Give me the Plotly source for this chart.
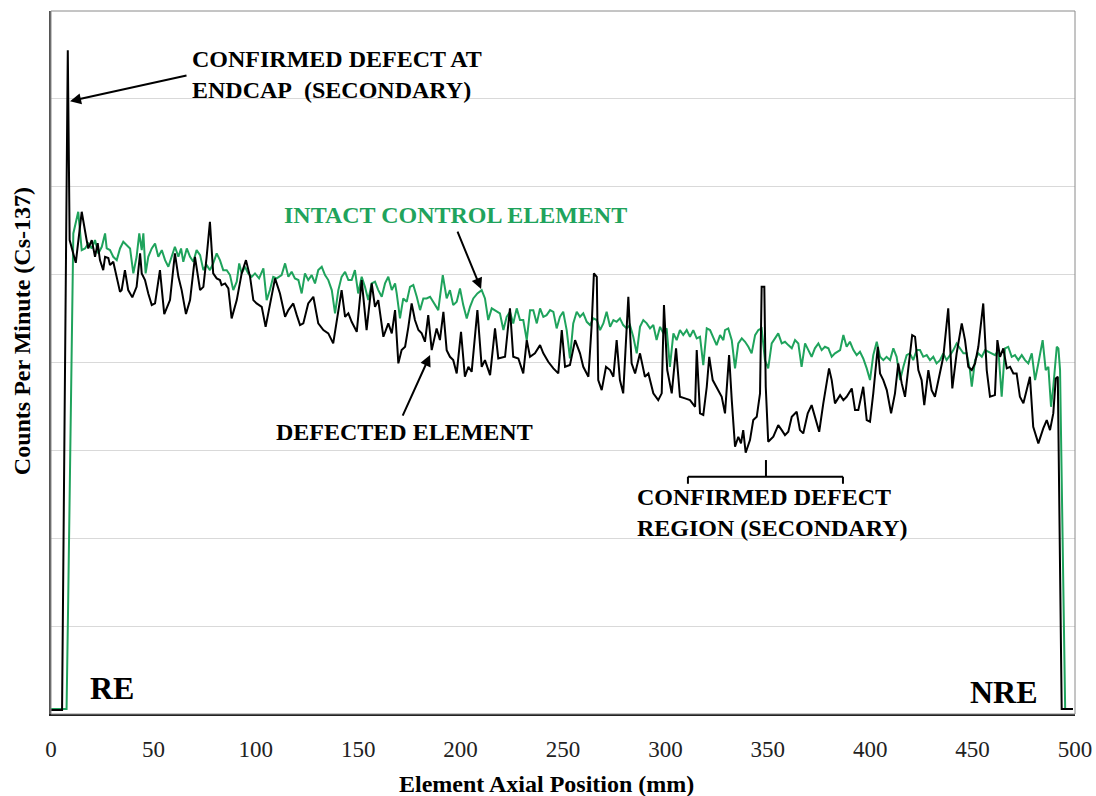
import plotly.graph_objects as go

# Axial gamma scan (Cs-137), counts per minute along the element
defected_x = [0, 5.4, 8.2, 9.1, 12.1, 15.0, 17.4, 18.2, 19.9, 21.5, 22.8, 23.9, 25.5, 26.4, 28.0, 28.8,
              30.4, 32.1, 33.7, 34.5, 36.1, 37.7, 39.7, 41.8, 43.5, 44.3, 45.9, 47.5, 49.2, 50.8, 53.2,
              55.3, 58.1, 60.5, 62.2, 63.8, 65.9, 67.9, 70.3, 72.8, 74.4, 76.0, 77.6, 79.2, 80.9, 82.5,
              83.3, 85.0, 86.6, 88.2, 90.7, 93.1, 95.2, 97.2, 98.8, 100.4, 102.9, 104.8, 106.9, 109.4,
              111.8, 114.3, 115.9, 118.3, 120.0, 121.6, 123.2, 125.6, 128.1, 130.5, 133.0, 135.4, 137.8,
              139.5, 141.9, 143.6, 145.2, 146.8, 149.3, 151.7, 154.1, 156.6, 158.2, 159.8, 162.3, 164.7,
              166.4, 168.0, 169.6, 171.2, 172.9, 174.5, 176.1, 177.7, 179.4, 181.0, 182.6, 184.2, 185.9,
              188.3, 189.9, 191.6, 193.2, 194.8, 196.4, 198.1, 200.2, 202.1, 203.8, 205.4, 208.2, 210.3,
              211.9, 214.4, 216.8, 218.4, 221.7, 224.1, 225.7, 228.2, 230.6, 232.3, 233.9, 236.3, 238.8,
              240.4, 242.8, 245.3, 247.7, 249.4, 251.0, 253.4, 255.9, 258.3, 259.9, 262.4, 264.0, 265.1,
              266.5, 267.2, 268.9, 271.0, 273.0, 274.6, 276.2, 277.8, 279.4, 281.9, 283.5, 285.2, 287.6,
              290.0, 291.7, 294.1, 296.5, 298.2, 299.3, 300.9, 303.1, 305.2, 307.1, 309.6, 312.0, 314.5,
              315.3, 316.9, 318.5, 320.2, 321.4, 323.1, 325.0, 327.5, 329.1, 331.1, 332.4, 334.0, 335.6,
              336.9, 338.0, 339.2, 341.3, 342.9, 344.6, 346.2, 347.0, 348.3, 349.0, 350.2, 352.7, 355.1,
              356.8, 358.4, 360.0, 361.7, 364.1, 365.7, 367.3, 369.5, 371.4, 373.0, 375.1, 377.1, 379.9,
              381.2, 382.8, 385.3, 386.9, 388.5, 391.0, 392.6, 394.2, 396.6, 398.3, 399.9, 401.5, 403.7,
              404.8, 406.4, 408.1, 410.2, 412.1, 413.7, 415.4, 417.0, 418.6, 420.5, 421.9, 423.5, 425.1,
              426.4, 428.4, 430.0, 431.6, 434.1, 435.7, 438.1, 440.1, 442.2, 444.7, 446.3, 447.9, 449.6,
              451.2, 452.8, 455.2, 456.9, 458.5, 460.9, 462.1, 463.4, 465.0, 466.7, 468.3, 469.9, 471.5,
              473.1, 474.8, 476.4, 478.0, 479.6, 482.1, 484.5, 486.2, 487.8, 489.4, 490.6, 491.6, 493.5,
              499.0]
defected_cpm = [45, 45, 7554, 5393, 5134, 5715, 5393, 5298, 5393, 5203, 5359, 5165, 5051, 5203, 5188, 5108,
                5146, 4975, 4804, 4824, 5051, 4824, 4741, 4861, 5241, 5014, 4938, 4786, 4653, 4672, 5051,
                4551, 4710, 5241, 4975, 4824, 4551, 4710, 5203, 4824, 4861, 5203, 5601, 5014, 4957, 4938,
                4881, 4900, 4843, 4502, 4710, 5014, 5165, 4975, 4710, 4672, 4634, 4406, 4672, 4957,
                4786, 4520, 4596, 4672, 4539, 4426, 4445, 4672, 4748, 4445, 4369, 4331, 4217,
                4483, 4824, 4520, 4559, 4463, 4349, 4938, 4369, 4900, 4634, 4710, 4293, 4445,
                4331, 4596, 3990, 4141, 4179, 4406, 4672, 4483, 4369, 4331, 4236, 4539, 4141,
                4388, 4255, 4577, 4141, 4065, 4027, 3876, 4349, 3838, 3951, 3894, 4596, 3951,
                4027, 3857, 4388, 4046, 4065, 4616, 4065, 4046, 3876, 4255, 4065, 4104, 4198,
                4104, 4008, 3933, 3876, 4369, 3951, 3971, 4255, 4104, 3951, 3838, 4426, 5014,
                4975, 3800, 3686, 3951, 3914, 3838, 4255, 3800, 3649, 4748, 3990, 3876, 4104,
                3838, 3876, 3649, 3572, 3649, 4653, 3914, 3649, 4161, 3610, 3592, 3572, 3496,
                4141, 3421, 3402, 3724, 4065, 3800, 3724, 3610, 3421, 4084, 3572, 3041, 3155,
                3080, 3231, 2973, 3117, 3345, 3382, 3649, 4861, 4861, 3724, 3098, 3155, 3288,
                3231, 3174, 3212, 3382, 3439, 3231, 3193, 3421, 3515, 3382, 3212, 3535, 3933,
                3800, 3535, 3629, 3572, 3610, 3705, 3459, 3459, 3724, 3345, 3326, 3649, 4179,
                3876, 3800, 3686, 3421, 3649, 3990, 3762, 3610, 3914, 4312, 4293, 3914, 3800,
                3515, 3914, 3686, 3610, 3914, 4065, 4616, 3705, 4104, 4445, 4255, 3951, 3914,
                3990, 4179, 4672, 3914, 3610, 3629, 4255, 4065, 4161, 3933, 3951, 3876, 3876,
                3610, 3535, 3686, 3838, 3269, 3080, 3250, 3345, 3231, 3421, 3819, 3838, 57,
                57]

intact_x = [0, 7.6, 8.4, 10.1, 10.9, 13.3, 14.1, 15.0, 16.6, 18.2, 19.9, 21.5, 23.1, 24.8, 26.4, 27.2,
            28.8, 30.4, 32.1, 33.7, 35.3, 37.0, 38.6, 40.2, 41.8, 43.1, 44.3, 45.1, 46.2, 47.5, 49.2,
            50.8, 52.4, 54.1, 55.7, 57.3, 58.9, 60.5, 62.2, 63.5, 64.6, 66.3, 67.9, 69.5, 71.1, 72.8,
            74.4, 76.0, 77.6, 79.2, 80.9, 82.5, 84.1, 85.8, 87.4, 89.0, 90.7, 91.9, 93.1, 94.7, 96.3,
            98.0, 99.6, 101.6, 103.7, 105.3, 106.9, 108.5, 110.2, 112.6, 114.3, 115.9, 117.5, 119.1,
            120.8, 122.4, 124.0, 125.6, 127.3, 128.9, 130.5, 132.2, 133.8, 135.4, 137.1, 138.7, 140.3,
            141.9, 143.6, 145.2, 146.8, 148.4, 150.0, 151.7, 153.3, 154.9, 156.6, 158.2, 159.8, 161.5,
            163.1, 164.7, 166.4, 168.0, 168.8, 170.4, 172.0, 173.7, 175.3, 176.9, 178.6, 180.2, 181.8,
            183.4, 185.1, 186.7, 189.1, 191.3, 193.2, 194.8, 196.4, 198.1, 199.7, 201.3, 203.0, 204.6,
            206.2, 208.2, 210.3, 211.9, 213.5, 215.2, 217.6, 219.2, 220.9, 222.5, 224.1, 225.7, 227.4,
            229.0, 230.6, 232.3, 233.9, 235.5, 237.2, 238.8, 240.4, 242.0, 243.7, 245.3, 246.9, 248.5,
            250.1, 251.8, 253.4, 255.0, 256.7, 258.3, 259.9, 261.6, 263.2, 264.8, 266.5, 268.1, 269.7,
            271.3, 273.0, 274.6, 276.2, 277.8, 279.4, 281.1, 282.7, 284.3, 286.0, 287.6, 289.2, 290.9,
            292.5, 294.1, 295.7, 297.4, 299.0, 300.6, 302.2, 303.9, 305.5, 307.1, 308.7, 310.4, 312.0,
            313.6, 315.3, 316.9, 318.5, 320.2, 321.8, 323.4, 325.0, 326.7, 328.3, 329.1, 330.7, 332.4,
            334.0, 335.6, 337.3, 338.9, 340.5, 342.1, 343.8, 345.4, 347.0, 348.6, 350.2, 351.9, 353.5,
            355.1, 356.8, 358.4, 360.0, 361.7, 363.3, 364.9, 366.5, 368.2, 369.8, 371.4, 373.0, 374.7,
            376.3, 377.9, 379.6, 381.2, 382.8, 385.3, 386.9, 388.5, 390.1, 391.8, 393.4, 395.0, 396.6,
            398.3, 399.9, 401.5, 403.2, 404.8, 406.4, 408.0, 409.7, 411.3, 412.9, 414.6, 416.2, 417.8,
            419.4, 421.0, 422.7, 424.3, 425.9, 427.6, 429.2, 430.8, 432.4, 434.1, 435.7, 437.3, 439.0,
            440.6, 442.2, 443.8, 445.5, 447.1, 448.7, 449.6, 451.2, 452.8, 454.5, 456.1, 457.7, 459.3,
            461.0, 462.6, 464.2, 465.8, 467.4, 469.1, 470.7, 472.3, 474.0, 475.6, 477.2, 478.9, 480.5,
            482.1, 484.2, 485.7, 487.0, 488.3, 489.4, 491.1, 491.9, 492.7, 495.2, 499.0]
intact_cpm = [57, 57, 1297, 3800, 5469, 5715, 5472, 5279, 5298, 5355, 5298, 5393, 5241, 5317, 5469, 5298,
              5279, 5203, 5165, 5298, 5374, 5336, 5298, 5014, 5203, 5469, 5279, 5469, 5014, 5203, 5298,
              5355, 5203, 5279, 5165, 5089, 5203, 5317, 5203, 5298, 5146, 5298, 5203, 5146, 5279, 5222,
              5051, 5108, 5051, 5128, 5241, 5165, 5051, 5051, 4995, 4824, 4919, 5128, 5014, 5089, 5014,
              4975, 5014, 4957, 5071, 4710, 4824, 4975, 4957, 4995, 5128, 4975, 5032, 4957,
              4938, 4786, 5014, 4938, 4995, 4900, 5051, 5089, 4995, 4938, 4824, 4559, 4824,
              4975, 5032, 4938, 4938, 5051, 4786, 4975, 4861, 4710, 4900, 4919, 4824, 4748,
              4900, 4975, 4824, 4900, 4786, 4502, 4729, 4691, 4861, 4881, 4748, 4596, 4729,
              4729, 4748, 4691, 4596, 4995, 4729, 4824, 4653, 4691, 4843, 4653, 4502, 4634,
              4729, 4786, 4824, 4729, 4483, 4616, 4577, 4559, 4369, 4520, 4577, 4445, 4616,
              4483, 4483, 4255, 4596, 4596, 4445, 4616, 4520, 4539, 4596, 4577, 4388, 4520,
              4577, 4369, 4046, 4445, 4577, 4520, 4559, 4463, 4426, 4502, 4483, 4369, 4445,
              4577, 4406, 4483, 4463, 4502, 4426, 4388, 4426, 4293, 4104, 4406, 4483, 4445,
              4388, 4426, 4255, 4406, 4331, 4388, 3951, 4331, 4255, 4369, 4312, 4369, 4293,
              4369, 4274, 4293, 3971, 4388, 4369, 4293, 4198, 4312, 4255, 4369, 4388, 4255,
              3933, 4217, 4274, 4236, 4179, 4104, 4312, 4369, 4388, 4027, 3933, 4217, 4274,
              4331, 4217, 4236, 4198, 4161, 4255, 4217, 3951, 4217, 4141, 4065, 4161, 4217,
              4141, 4179, 4161, 4065, 4104, 4141, 4312, 4179, 4236, 4141, 4084, 4122, 4046,
              3933, 3800, 4084, 4236, 4065, 4027, 4065, 4027, 4161, 4065, 3800, 3951, 4084,
              4104, 4027, 4141, 4141, 4065, 4084, 4027, 4065, 3990, 4027, 4104, 4027, 4084,
              4141, 4217, 4161, 4104, 4104, 3914, 3724, 4027, 4104, 4065, 4141, 4122, 4104,
              4084, 4141, 3610, 4161, 4179, 4065, 4084, 4027, 4084, 4027, 3990, 4104, 3800,
              3990, 4255, 3914, 3951, 3496, 3724, 4179, 4161, 3914, 57, 57]

x_ticks = [0, 50, 100, 150, 200, 250, 300, 350, 400, 450, 500]

SERIF = "Liberation Serif, Times New Roman, serif"
GREEN = "#1fa35c"

fig = go.Figure()
fig.add_trace(go.Scatter(x=intact_x, y=intact_cpm, mode="lines",
                         line=dict(color=GREEN, width=2), name="Intact control element"))
fig.add_trace(go.Scatter(x=defected_x, y=defected_cpm, mode="lines",
                         line=dict(color="#000000", width=2), name="Defected element"))

bold = dict(family=SERIF, size=24, color="#000000")
annotations = [
    dict(x=67.9, y=7281, xref="x", yref="y", xanchor="left", yanchor="middle", align="left",
         text="<b>CONFIRMED DEFECT AT<br>ENDCAP\u00a0 (SECONDARY)</b>", showarrow=False, font=bold),
    dict(x=9.3, y=6974, ax=66.9, ay=7270, xref="x", yref="y", axref="x", ayref="y",
         showarrow=True, arrowhead=2, arrowsize=1.1, arrowwidth=2, arrowcolor="#000000", text=""),
    dict(x=197.3, y=5677, xref="x", yref="y", showarrow=False,
         text="<b>INTACT CONTROL ELEMENT</b>", font=dict(family=SERIF, size=24, color=GREEN)),
    dict(x=210.0, y=4835, ax=198.2, ay=5506, xref="x", yref="y", axref="x", ayref="y",
         showarrow=True, arrowhead=2, arrowsize=1.1, arrowwidth=2, arrowcolor="#000000", text=""),
    dict(x=172.6, y=3208, xref="x", yref="y", showarrow=False,
         text="<b>DEFECTED ELEMENT</b>", font=bold),
    dict(x=185.1, y=4084, ax=171.4, ay=3379, xref="x", yref="y", axref="x", ayref="y",
         showarrow=True, arrowhead=2, arrowsize=1.1, arrowwidth=2, arrowcolor="#000000", text=""),
    dict(x=285.2, y=2298, xref="x", yref="y", xanchor="left", yanchor="middle", align="left",
         text="<b>CONFIRMED DEFECT<br>REGION (SECONDARY)</b>", showarrow=False, font=bold),
    dict(x=29.8, y=296, xref="x", yref="y", showarrow=False, text="<b>RE</b>",
         font=dict(family=SERIF, size=32, color="#000000")),
    dict(x=465.3, y=250, xref="x", yref="y", showarrow=False, text="<b>NRE</b>",
         font=dict(family=SERIF, size=32, color="#000000")),
    # axis titles
    dict(x=0.484, y=-0.1, xref="paper", yref="paper", yanchor="middle", showarrow=False,
         text="<b>Element Axial Position (mm)</b>", font=dict(family=SERIF, size=24, color="#000000")),
    dict(x=-0.028, y=0.545, xref="paper", yref="paper", xanchor="center", yanchor="middle",
         showarrow=False, textangle=-90,
         text="<b>Counts Per Minute (Cs-137)</b>", font=dict(family=SERIF, size=24, color="#000000")),
]

# bracket marking the defect region
bracket = dict(type="line", xref="x", yref="y", line=dict(color="#000000", width=2))
shapes = [
    dict(bracket, x0=311.0, x1=386.7, y0=2700, y1=2700),
    dict(bracket, x0=311.0, x1=311.0, y0=2700, y1=2620),
    dict(bracket, x0=386.7, x1=386.7, y0=2700, y1=2620),
    dict(bracket, x0=349.1, x1=349.1, y0=2700, y1=2890),
    # plot frame
    dict(type="rect", xref="paper", yref="paper", x0=0, x1=1, y0=0, y1=1,
         line=dict(color="#8a8a8a", width=1), layer="above"),
]

fig.update_layout(
    width=1096, height=796,
    margin=dict(l=51, r=21, t=11, b=82, autoexpand=False),
    paper_bgcolor="#ffffff", plot_bgcolor="#ffffff",
    showlegend=False,
    annotations=annotations,
    shapes=shapes,
)
fig.update_xaxes(range=[0, 500], tickvals=x_ticks, showgrid=False, zeroline=False,
                 showline=True, linecolor="#222222", linewidth=1.5, ticks="",
                 ticklabelstandoff=14, automargin=False,
                 tickfont=dict(family=SERIF, size=23, color="#222222"))
fig.update_yaxes(range=[0, 8000], dtick=1000, showticklabels=False, showgrid=True,
                 gridcolor="#d9d9d9", gridwidth=1, zeroline=False, automargin=False,
                 showline=True, linecolor="#555555", linewidth=1.5, ticks="")

fig.write_html("out.html")
